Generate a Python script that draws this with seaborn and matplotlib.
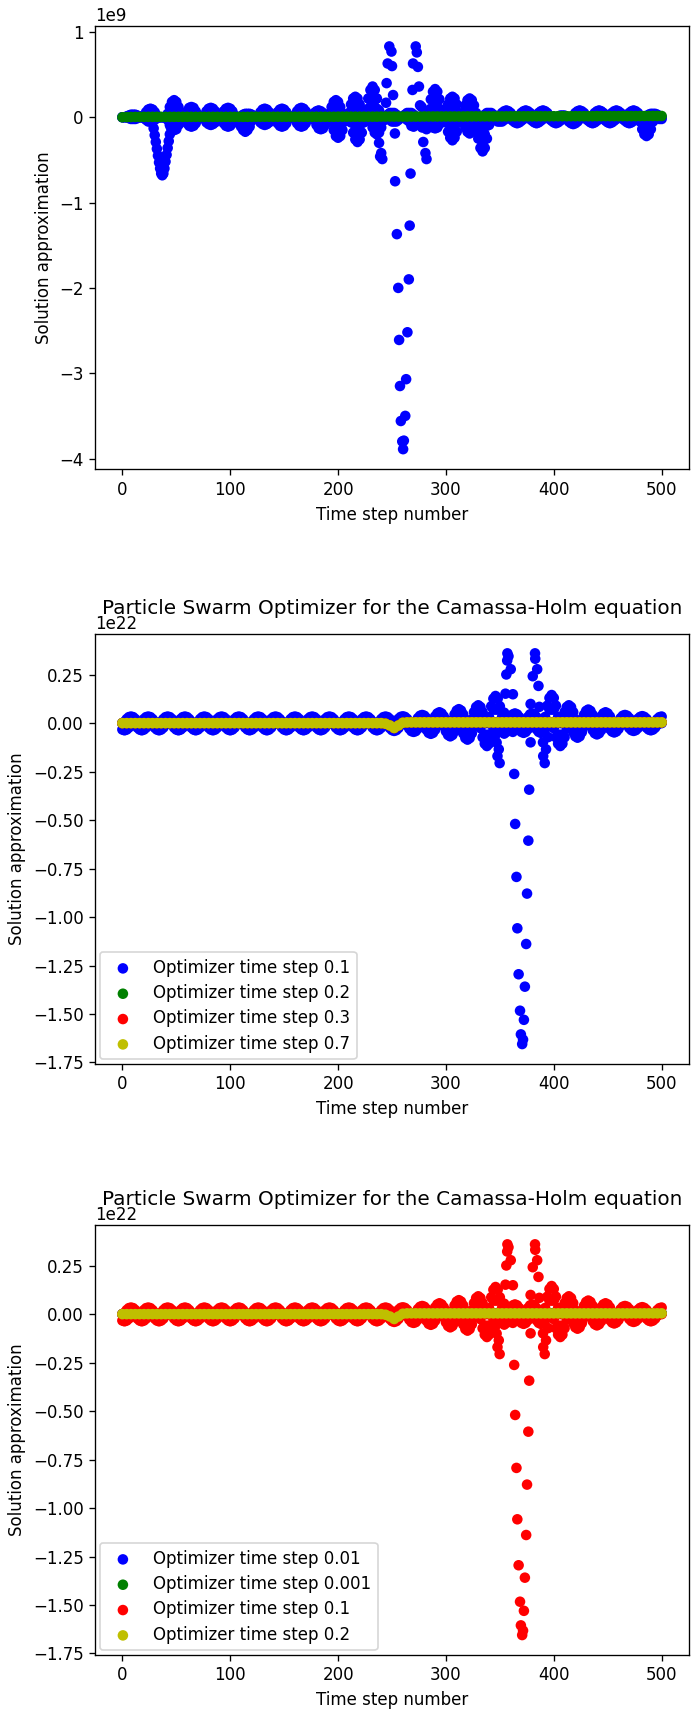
import numpy as np
import matplotlib
matplotlib.use("Agg")
import matplotlib.pyplot as plt
import seaborn as sns

# time steps (every 2nd / every 4th step)
steps2 = np.arange(0, 501, 2)
steps4 = np.arange(0, 501, 4)

# ---------- top panel (units of 1e9) ----------
# upper / lower edge of the blue swarm at every 2nd time step
top_upper = [
    0, 0, .01, .02, .03, .03, .03, .02, .01, 0,
    .02, .06, .09, .10, .09, .06, .02, 0, 0, 0,
    0, .04, .12, .18, .20, .18, .12, .04, 0, .03,
    .07, .11, .12, .11, .07, .03, 0, 0, .02, .07,
    .10, .11, .10, .07, .02, 0, .02, .07, .10, .11,
    .10, .07, .02, 0, 0, .01, .03, .04, .04, .04,
    .03, .01, 0, .02, .06, .09, .10, .09, .06, .02,
    0, .02, .06, .09, .10, .09, .06, .02, 0, 0,
    .02, .07, .10, .11, .10, .07, .02, 0, .02, .05,
    .07, .08, .07, .05, .02, 0, .04, .12, .18, .20,
    .18, .12, .04, 0, 0, .05, .15, .22, .24, .22,
    .15, .05, 0, .08, .22, .32, .36, .32, .22, .08,
    0, 0, .01, .03, .05, .05, .05, .03, .01, 0,
    .01, .03, .05, .05, .05, .03, .01, 0, 0, 0,
    0, 0, .07, .21, .30, .33, .30, .21, .07, 0,
    .05, .15, .22, .24, .22, .15, .05, 0, .05, .14,
    .20, .22, .20, .14, .05, 0, 0, .01, .03, .05,
    .05, .05, .03, .01, 0, .02, .05, .07, .08, .07,
    .05, .02, 0, 0, .02, .05, .07, .08, .07, .05,
    .02, 0, .02, .05, .07, .08, .07, .05, .02, 0,
    0, 0, .01, .02, .02, .02, .01, 0, 0, .02,
    .05, .07, .08, .07, .05, .02, 0, 0, .02, .05,
    .07, .08, .07, .05, .02, 0, .02, .05, .07, .08,
    .07, .05, .02, 0, .02, .05, .07, .08, .07, .05,
    .02, 0, 0, .01, .03, .04, .04, .04, .03, .01,
    0,
]
top_lower = [
    0, 0, 0, -.01, -.02, -.02, -.02, -.01, 0, 0,
    -.01, -.03, -.05, -.05, -.05, -.03, -.01, 0, 0, 0,
    0, -.03, -.09, -.14, -.15, -.14, -.09, -.03, 0, -.02,
    -.07, -.10, -.11, -.10, -.07, -.02, 0, 0, -.02, -.06,
    -.08, -.09, -.08, -.06, -.02, 0, -.02, -.07, -.10, -.11,
    -.10, -.07, -.02, 0, -.04, -.11, -.15, -.17, -.15, -.11,
    -.04, 0, 0, -.02, -.06, -.08, -.09, -.08, -.06, -.02,
    0, -.02, -.07, -.10, -.11, -.10, -.07, -.02, 0, 0,
    -.02, -.07, -.10, -.11, -.10, -.07, -.02, 0, 0, -.03,
    -.09, -.13, -.14, -.13, -.09, -.03, 0, -.05, -.15, -.22,
    -.24, -.22, -.15, -.05, 0, 0, -.06, -.18, -.26, -.29,
    -.26, -.18, -.06, 0, 0, -.04, -.12, -.18, -.20, -.18,
    -.12, -.04, 0, -.01, -.03, -.05, -.05, -.05, -.03, -.01,
    0, -.01, -.03, -.05, -.05, -.05, -.03, -.01, 0, 0,
    0, 0, -.03, -.08, -.12, -.13, -.12, -.08, -.03, 0,
    -.06, -.17, -.24, -.27, -.24, -.17, -.06, 0, -.04, -.12,
    -.17, -.19, -.17, -.12, -.09, -.25, -.36, -.40, -.36, -.25,
    -.09, 0, -.01, -.03, -.05, -.05, -.05, -.03, -.01, 0,
    -.02, -.04, -.06, -.07, -.06, -.04, -.02, 0, 0, -.02,
    -.04, -.06, -.07, -.06, -.04, -.02, 0, 0, -.02, -.04,
    -.06, -.07, -.06, -.04, -.02, 0, -.02, -.05, -.07, -.08,
    -.07, -.05, -.02, 0, 0, -.02, -.04, -.06, -.07, -.06,
    -.04, -.02, 0, -.02, -.04, -.06, -.07, -.06, -.04, -.02,
    0, 0, -.02, -.04, -.06, -.07, -.06, -.04, -.02, 0,
    -.05, -.14, -.20, -.22, -.20, -.14, -.05, 0, -.01, -.02,
    -.02,
]
# inner points of the large blobs, the dip near step 35 and the burst near step 260
top_extra_t = [
    46, 48, 50, 196, 198, 200, 214, 216, 218, 216,
    228, 230, 232, 234, 236, 230, 232, 234, 232,
    286, 288, 290, 292, 294, 288, 290, 292, 290,
    304, 306, 308, 306, 320, 322, 324,
    48, 112, 114, 116, 198, 200, 202, 200,
    216, 218, 220, 216, 218, 220, 234, 236, 238,
    304, 306, 308, 306, 322,
    330, 332, 334, 336, 338, 332, 334, 336, 334,
    484, 486, 488, 486,
    28, 29, 30, 31, 32, 33, 34, 35, 36, 37, 38, 39, 40, 41, 42, 43, 44, 45,
    244.5, 245, 246, 247.5, 249.5, 250, 251,
    269, 269.5, 272, 273, 274, 275,
    252.9, 254.5, 255.8, 256.6, 257.4, 258.2, 259.5, 260.3,
    261, 262.3, 263.1, 264.3, 265.6, 266.4, 267.2,
    236, 238, 240, 241, 239, 252.7,
    268, 270, 276, 277.5, 278, 277.5, 282, 285, 279, 281, 282,
]
top_extra_y = [
    .1, .1, .1, .1, .1, .1, .1, .1, .1, .17,
    .1, .1, .1, .1, .1, .2, .2, .2, .28,
    .1, .1, .1, .1, .1, .2, .2, .2, .26,
    .1, .1, .1, .17, .1, .1, .1,
    -.08, -.09, -.09, -.09, -.1, -.1, -.1, -.17,
    -.1, -.1, -.1, -.19, -.2, -.19, -.1, -.1, -.1,
    -.1, -.1, -.1, -.18, -.1,
    -.1, -.1, -.1, -.1, -.1, -.2, -.2, -.2, -.3,
    -.1, -.1, -.1, -.15,
    -.05, -.13, -.21, -.29, -.37, -.45, -.53, -.6, -.66, -.68, -.66, -.6, -.52, -.44, -.36, -.28, -.2, -.12,
    .17, .4, .63, .83, .77, .6, .26,
    .32, .63, .83, .76, .59, .36,
    -.75, -1.37, -2.0, -2.61, -3.15, -3.56, -3.8, -3.89,
    -3.79, -3.5, -3.07, -2.52, -1.9, -1.27, -.66,
    -.15, -.3, -.42, -.49, -.46, -.19,
    -.1, -.11, .14, .12, -.12, -.11, -.14, -.11, -.29, -.42, -.49,
]
# green run, every 4th step
top_green = [
    0, .002, .003, .004, .004, .005, .005, .005, .005, .005,
    .005, .005, .005, .005, .005, .005, .005, .005, .005, .005,
    .005, .005, .005, .005, .005, .005, .005, .005, .005, .005,
    .006, .006, .006, .006, .006, .006, .006, .006, .006, .006,
    .006, .006, .006, .006, .006, .006, .006, .006, .006, .006,
    .007, .007, .007, .007, .007, .007, .007, .007, .007, .007,
    .008, .008, .008, .008, .008, .008, .008, .008, .008, .008,
    .009, .009, .009, .009, .009, .009, .009, .009, .009, .009,
    .010, .010, .010, .010, .010, .010, .010, .010, .010, .010,
    .011, .011, .011, .011, .011, .011, .011, .011, .011, .011,
    .012, .012, .012, .012, .012, .012, .012, .012, .012, .012,
    .013, .013, .013, .013, .013, .013, .013, .013, .013, .013,
    .014, .014, .015, .015, .015, .015,
]

# ---------- middle / bottom panels (units of 1e22) ----------
# the dt=0.1 run (blue in the middle panel, red in the bottom panel)
run_upper = [
    0, .007, .021, .031, .034, .031, .021, .007, 0, .007,
    .021, .031, .034, .031, .021, .007, 0, 0, .007, .021,
    .031, .034, .031, .021, .007, 0, .007, .021, .031, .034,
    .031, .021, .007, 0, 0, .007, .021, .031, .034, .031,
    .021, .007, 0, .007, .021, .031, .034, .031, .021, .007,
    0, .007, .021, .031, .034, .031, .021, .007, 0, 0,
    .007, .021, .031, .034, .031, .021, .007, 0, .007, .021,
    .031, .034, .031, .021, .007, 0, 0, .007, .021, .031,
    .034, .031, .021, .007, 0, .007, .021, .031, .034, .031,
    .021, .007, 0, .007, .021, .031, .034, .031, .021, .007,
    0, 0, .007, .021, .031, .034, .031, .021, .007, 0,
    .007, .021, .031, .034, .031, .021, .007, 0, 0, .007,
    .021, .031, .034, .031, .021, .007, 0, .008, .022, .032,
    .035, .032, .022, .008, 0, 0, .009, .026, .038, .042,
    .038, .026, .009, 0, .012, .035, .05, .056, .05, .035,
    .012, 0, 0, .016, .045, .065, .072, .065, .045, .016,
    0, 0, .02, .057, .083, .092, .083, .057, .02, 0,
    .031, .087, .126, .14, .126, .087, .031, 0, 0, .011,
    .031, .045, .05, .045, .031, .011, 0, .011, .031, .045,
    .05, .045, .031, .011, 0, 0, .032, .09, .13, .145,
    .13, .09, .032, 0, .02, .057, .083, .092, .083, .057,
    .02, 0, 0, .015, .043, .063, .07, .063, .043, .015,
    0, .012, .035, .05, .056, .05, .035, .012, 0, 0,
    .009, .026, .038, .042, .038, .026, .009, 0, .008, .022,
    .032, .036, .032, .022, .008, 0, 0, .007, .021, .031,
    .034,
]
run_lower = [
    -.033, -.037, -.033, -.023, -.008, 0, -.008, -.023, -.033, -.037,
    -.033, -.023, -.008, 0, -.008, -.023, -.033, -.037, -.033, -.023,
    -.008, 0, 0, -.008, -.023, -.033, -.037, -.033, -.023, -.008,
    0, -.008, -.023, -.033, -.037, -.033, -.023, -.008, 0, -.008,
    -.023, -.033, -.037, -.033, -.023, -.008, 0, -.008, -.023, -.033,
    -.037, -.033, -.023, -.008, 0, 0, -.008, -.023, -.033, -.037,
    -.033, -.023, -.008, 0, -.008, -.023, -.033, -.037, -.033, -.023,
    -.008, 0, 0, -.008, -.023, -.033, -.037, -.033, -.023, -.008,
    0, -.008, -.023, -.033, -.037, -.033, -.023, -.008, 0, -.008,
    -.023, -.033, -.037, -.033, -.023, -.008, 0, 0, -.008, -.023,
    -.033, -.037, -.033, -.023, -.008, 0, -.008, -.023, -.033, -.037,
    -.033, -.023, -.008, 0, 0, -.008, -.023, -.033, -.037, -.033,
    -.023, -.008, 0, -.009, -.025, -.036, -.04, -.036, -.025, -.009,
    0, 0, -.01, -.028, -.041, -.045, -.041, -.028, -.01, 0,
    -.012, -.034, -.05, -.055, -.05, -.034, -.012, 0, 0, -.015,
    -.042, -.061, -.068, -.061, -.042, -.015, 0, -.019, -.053, -.077,
    -.085, -.077, -.053, -.019, 0, 0, -.026, -.073, -.106, -.118,
    -.106, -.073, -.026, 0, -.011, -.031, -.045, -.05, -.045, -.031,
    -.011, 0, 0, -.011, -.031, -.045, -.05, -.045, -.031, -.011,
    0, -.011, -.031, -.045, -.05, -.045, -.031, -.011, 0, 0,
    -.026, -.073, -.106, -.118, -.106, -.073, -.026, 0, -.017, -.047,
    -.068, -.075, -.068, -.047, -.017, 0, 0, -.013, -.036, -.052,
    -.058, -.052, -.036, -.013, 0, -.011, -.03, -.043, -.048, -.043,
    -.03, -.011, 0, 0, -.009, -.025, -.036, -.04, -.036, -.025,
    -.009, 0, -.008, -.023, -.033, -.037, -.033, -.023, -.008, 0,
    0,
]
run_extra_t = [
    328, 330, 332, 344, 346, 348, 312, 396, 398, 400, 412, 414, 416, 432,
    320, 336, 338, 340, 404, 406, 408, 422,
    357, 358, 356.8, 360.1, 356, 355.2, 362.1,
    382.6, 382.8, 384.6, 380.5, 385.8, 378.5, 386.6,
    347, 349, 347.8, 349.8, 346, 362, 354, 354,
    378.5, 390, 392.8, 390.2, 391.6, 394.8,
    363.3, 364.2, 365.4, 366.2, 367.4, 368.7, 369.5, 370.7,
    371.5, 372.3, 373.2, 374.4, 375.2, 376.4, 377.2,
]
run_extra_y = [
    .045, .045, .045, .07, .07, .07, .04, .07, .07, .07, .045, .045, .045, .04,
    -.045, -.06, -.06, -.06, -.06, -.06, -.06, -.04,
    .36, .345, .323, .278, .251, .152, .149,
    .36, .332, .278, .242, .192, .099, .084,
    -.1, -.135, -.17, -.206, -.06, -.045, -.054, .054,
    -.099, -.099, -.135, -.17, -.206, -.072,
    -.262, -.52, -.793, -1.058, -1.295, -1.483, -1.605, -1.655,
    -1.632, -1.53, -1.359, -1.139, -.879, -.606, -.343,
]
# the quiet runs that sit on the zero line, every 4th step
flat_run = [
    0, 0, 0, 0, 0, 0, 0, 0, 0, 0,
    0, 0, 0, 0, 0, 0, 0, 0, 0, 0,
    0, 0, 0, 0, 0, 0, 0, 0, 0, 0,
    0, 0, 0, 0, 0, 0, 0, 0, 0, 0,
    0, 0, 0, 0, 0, 0, 0, 0, 0, 0,
    0, 0, 0, 0, 0, 0, 0, 0, 0, 0,
    0, -.003, -.012, -.025, -.012, .002, .004, .004, .004, .004,
    .004, .004, .004, .004, .004, .004, .004, .004, .004, .004,
    .004, .004, .004, .004, .004, .004, .004, .004, .004, .004,
    .004, .004, .004, .004, .004, .004, .004, .004, .004, .004,
    .004, .004, .004, .004, .004, .004, .004, .004, .004, .004,
    .004, .004, .004, .004, .004, .004, .004, .004, .004, .004,
    .004, .004, .004, .004, .004, .004,
]

assert len(top_upper) == len(top_lower) == len(run_upper) == len(run_lower) == len(steps2)
assert len(top_green) == len(flat_run) == len(steps4)
assert len(top_extra_t) == len(top_extra_y) and len(run_extra_t) == len(run_extra_y)

middle_labels = ["Optimizer time step 0.1", "Optimizer time step 0.2",
                 "Optimizer time step 0.3", "Optimizer time step 0.7"]
bottom_labels = ["Optimizer time step 0.01", "Optimizer time step 0.001",
                 "Optimizer time step 0.1", "Optimizer time step 0.2"]
title = "Particle Swarm Optimizer for the Camassa-Holm equation"

top_t = np.concatenate([steps2, steps2, top_extra_t])
top_y = np.concatenate([top_upper, top_lower, top_extra_y]) * 1e9
run_t = np.concatenate([steps2, steps2, run_extra_t])
run_y = np.concatenate([run_upper, run_lower, run_extra_y]) * 1e22
flat_y = np.array(flat_run) * 1e22


def dots(ax, x, y, color, label=None):
    kw = dict(x=x, y=y, color=color, s=40, linewidth=0, edgecolor="none", ax=ax)
    if label is not None:
        kw["label"] = label
    sns.scatterplot(**kw)


DPI = 120
W, H = 693, 1719
fig = plt.figure(figsize=(W / DPI, H / DPI), dpi=DPI)


def frame(top, bottom):
    return [95.4 / W, 1 - bottom / H, 593.2 / W, (bottom - top) / H]


# 1. top panel
ax1 = fig.add_axes(frame(26.3, 469.3))
dots(ax1, top_t, top_y, "b")
dots(ax1, steps4, np.array(top_green) * 1e9, "g")
ax1.set_xlabel("Time step number")
ax1.set_ylabel("Solution approximation")

# 2. middle panel
ax2 = fig.add_axes(frame(633.8, 1063.6))
dots(ax2, run_t, run_y, "b", middle_labels[0])
dots(ax2, steps4, flat_y, "g", middle_labels[1])
dots(ax2, steps4, flat_y, "r", middle_labels[2])
dots(ax2, steps4, flat_y, "y", middle_labels[3])
# fixed y: the title sits over the 1e22 offset text as in the original
ax2.set_title(title, y=1.023)
ax2.set_xlabel("Time step number")
ax2.set_ylabel("Solution approximation")
ax2.legend(loc="lower left", labelspacing=0.44, borderaxespad=0.25)

# 3. bottom panel
ax3 = fig.add_axes(frame(1224.8, 1654.6))
dots(ax3, steps4, flat_y, "b", bottom_labels[0])
dots(ax3, steps4, flat_y, "g", bottom_labels[1])
dots(ax3, run_t, run_y, "r", bottom_labels[2])
dots(ax3, steps4, flat_y, "y", bottom_labels[3])
ax3.set_title(title, y=1.023)
ax3.set_xlabel("Time step number")
ax3.set_ylabel("Solution approximation")
ax3.legend(loc="lower left", labelspacing=0.44, borderaxespad=0.25)

fig.savefig("out.png", dpi=DPI)
